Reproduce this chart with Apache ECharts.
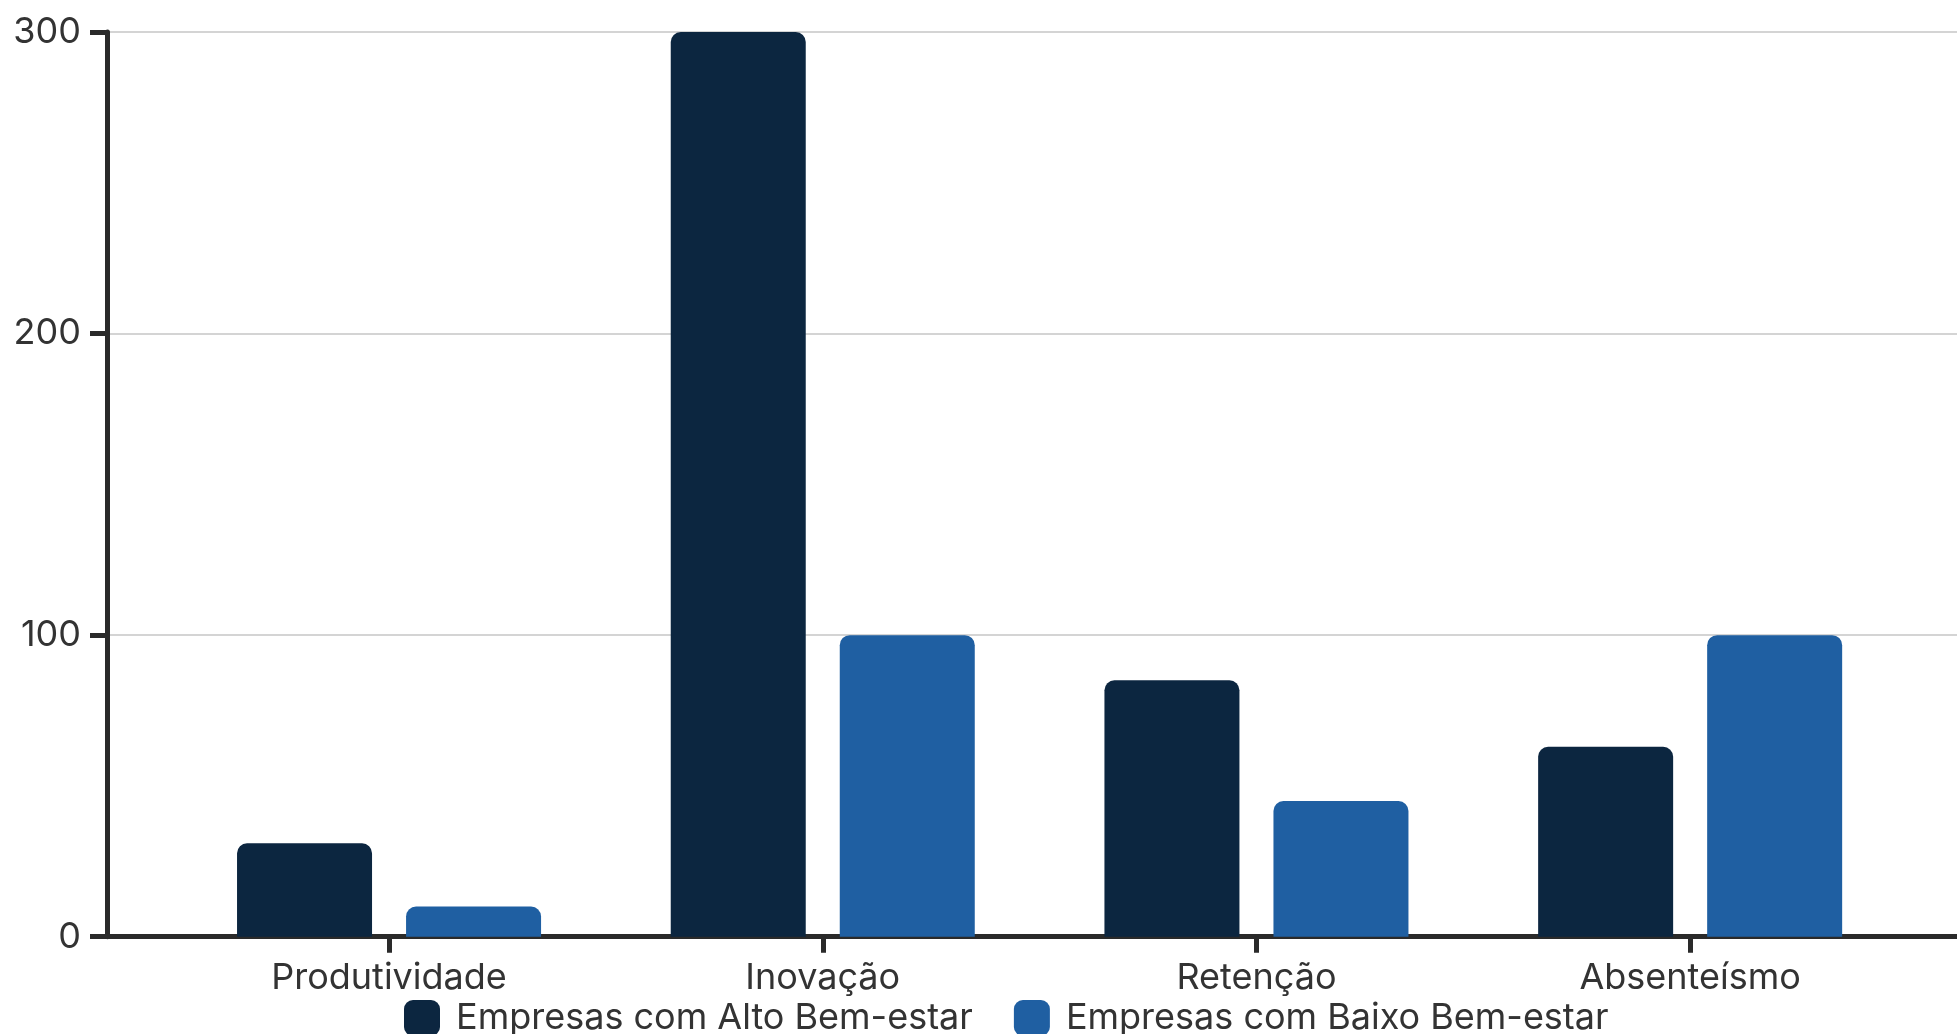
<!DOCTYPE html>
<html>
<head>
<meta charset="utf-8">
<script src="https://cdn.jsdelivr.net/npm/echarts@6/dist/echarts.min.js"></script>
<style>
html,body{margin:0;padding:0;background:#fff;}
#chart{width:1957px;height:1034px;}
</style>
</head>
<body>
<div id="chart"></div>
<script>
const categories = ['Produtividade', 'Inovação', 'Retenção', 'Absenteísmo'];
const seriesNames = ['Empresas com Alto Bem-estar', 'Empresas com Baixo Bem-estar'];
const altoValues = [31, 300, 85, 63];
const baixoValues = [10, 100, 45, 100];
const yTicks = [0, 100, 200, 300];

const FONT = 'Inter, "Noto Sans", sans-serif';
const AXIS = '#2a2a2a';
const TEXT = '#333333';

const chart = echarts.init(document.getElementById('chart'), null, {renderer: 'canvas'});
chart.setOption({
  animation: false,
  backgroundColor: '#ffffff',
  textStyle: {fontFamily: FONT},
  grid: [
    {left: 107, right: 0, top: 32, bottom: 97.3},
    {left: 172.2, right: 50, top: 32, bottom: 97.3}
  ],
  legend: {
    left: 404,
    top: 1000,
    padding: 0,
    itemWidth: 36,
    itemHeight: 36,
    itemGap: 41,
    icon: 'roundRect',
    textStyle: {fontSize: 36, color: TEXT, fontFamily: FONT, padding: [0, 0, 0, 11]},
    data: seriesNames
  },
  xAxis: [
    {
      gridIndex: 0, type: 'value', min: 0, max: 1,
      axisLine: {show: true, lineStyle: {color: AXIS, width: 5}},
      axisTick: {show: false}, axisLabel: {show: false}, splitLine: {show: false}
    },
    {
      gridIndex: 1, type: 'category', data: categories,
      axisLine: {show: false},
      axisTick: {show: true, alignWithLabel: true, length: 16, lineStyle: {color: AXIS, width: 5}},
      axisLabel: {fontSize: 36, color: TEXT, margin: 23, fontFamily: FONT},
      splitLine: {show: false}
    }
  ],
  yAxis: [
    {
      gridIndex: 0, type: 'value', min: yTicks[0], max: yTicks[yTicks.length - 1], interval: 100,
      axisLine: {show: true, lineStyle: {color: AXIS, width: 5}},
      axisTick: {show: true, length: 17, lineStyle: {color: AXIS, width: 5}},
      axisLabel: {fontSize: 36, color: TEXT, margin: 26, fontFamily: FONT},
      splitLine: {show: true, lineStyle: {color: '#d4d4d4', width: 2}}
    },
    {
      gridIndex: 1, type: 'value', min: yTicks[0], max: yTicks[yTicks.length - 1], interval: 100,
      show: false
    }
  ],
  series: [
    {
      name: seriesNames[0], type: 'bar', xAxisIndex: 1, yAxisIndex: 1,
      data: altoValues, barWidth: 135, barGap: '25.2%',
      itemStyle: {color: '#0c2640', borderRadius: [10, 10, 0, 0]}
    },
    {
      name: seriesNames[1], type: 'bar', xAxisIndex: 1, yAxisIndex: 1,
      data: baixoValues, barWidth: 135, barGap: '25.2%',
      itemStyle: {color: '#1f5fa2', borderRadius: [10, 10, 0, 0]}
    }
  ]
});
</script>
</body>
</html>
